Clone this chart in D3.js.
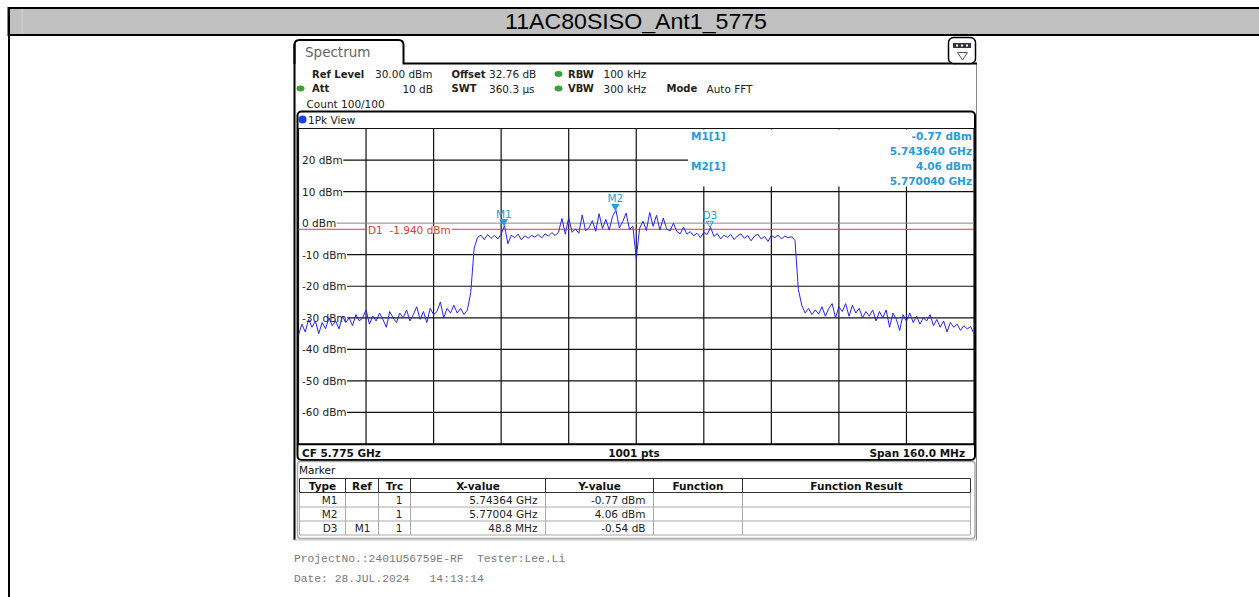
<!DOCTYPE html>
<html><head><meta charset="utf-8">
<script src="https://cdn.jsdelivr.net/npm/d3@7"></script>
<style>body{margin:0;background:#fff;overflow:hidden;} svg{display:block;}</style>
</head><body>
<svg id="c" width="1259" height="597"></svg>
<script>
// ---------- data ----------
const chartTitle = "11AC80SISO_Ant1_5775";
const startFreq = 5.695;   // GHz
const stopFreq = 5.855;    // GHz
const refLevel = 30;       // dBm (top)
const bottomLevel = -70;   // dBm (bottom)
const yTickValues = [20, 10, 0, -10, -20, -30, -40, -50, -60];
const yTickLabels = ["20 dBm", "10 dBm", "0 dBm", "-10 dBm", "-20 dBm", "-30 dBm", "-40 dBm", "-50 dBm", "-60 dBm"];
const xDivisions = [0,1,2,3,4,5,6,7,8,9,10];
// trace levels (dBm), evenly spaced from startFreq to stopFreq
const traceLevels = [
  -35.5, -32, -34.5, -30.5, -33, -31, -35, -31.5, -33.5, -30, -32.5,
  -31, -33.5, -29.5, -31.5, -30, -32.5, -29, -31, -30, -27.5,
  -32, -29.5, -31, -28.5, -30.5, -33, -28, -30, -31.5, -28.5,
  -30, -27.5, -31, -29, -26.5, -30.5, -28, -31.5, -27, -29,
  -28, -25, -30, -27, -28.5, -26, -28.5, -27, -29, -27.5,
  -22, -8,
  -4.5, -3.8, -5.2, -3.6, -4.8, -3.9, -5.0, -3.5, -0.77, -6.5,
  -3.8, -4.6, -3.5, -5.3, -4.0, -4.8, -3.9, -4.4, -3.6, -4.7,
  -3.4, -4.1, -3.0, -3.9, -2.8, 1.5, -3.5, 1.8, -2.9, -1.8,
  -3.2, 2.6, -2.4, -1.5, 0.8, -2.6, 3.0, -1.7, 1.2, -2.2,
  2.2, 4.06, -1.5, 0.5, 3.2, -2.0, -1.0, -11.2, -1.6, 0.6,
  -2.3, 3.4, -1.0, 2.5, -2.2, 1.6, -1.8, -2.5, 0.0, -2.6,
  -3.4, -1.2, -3.5, -2.7, -4.0, -3.2, -4.6, -2.9, -3.6, -1.3,
  -4.2, -3.3, -5.0, -3.8, -4.5, -3.6, -5.2, -4.0, -3.4, -4.8,
  -3.9, -5.6, -4.1, -3.5, -5.0, -4.2, -5.8, -3.9, -4.6, -3.8,
  -5.0, -4.1, -4.6, -4.3, -5.5,
  -21, -26, -28.5,
  -27, -29, -27.5, -28.8, -26.5, -29.5, -27, -25.5, -30, -26.5,
  -28, -25.5, -29.5, -26, -28.5, -27, -30, -28, -29.5, -27.5,
  -31, -28, -30, -27.5, -33, -28.5, -30.5, -34, -29, -31,
  -28.5, -31.5, -29.5, -32, -30, -31, -29, -32.5, -30.5, -33,
  -31, -34.5, -31.5, -33, -32, -34, -32.5, -33.5, -32.8, -35
];
const displayLineLevel = -1.94;
const displayLineLabel = "D1  -1.940 dBm";
const markerNames = ["M1", "M2", "D3"];
const markerFreqs = [5.74364, 5.77004, 5.79244];
const markerLevels = [-0.77, 4.06, -1.31];
const markerInfoNames = ["M1[1]", "M2[1]"];
const markerInfoLevels = ["-0.77 dBm", "4.06 dBm"];
const markerInfoFreqs = ["5.743640 GHz", "5.770040 GHz"];
const tableHeaders = ["Type", "Ref", "Trc", "X-value", "Y-value", "Function", "Function Result"];
const tableRows = [
  ["M1", "", "1", "5.74364 GHz", "-0.77 dBm", "", ""],
  ["M2", "", "1", "5.77004 GHz", "4.06 dBm", "", ""],
  ["D3", "M1", "1", "48.8 MHz", "-0.54 dB", "", ""]
];
const footerLines = ["ProjectNo.:2401U56759E-RF  Tester:Lee.Li", "Date: 28.JUL.2024   14:13:14"];

// ---------- drawing ----------
const svg = d3.select("#c");
const F = "DejaVu Sans, Verdana, sans-serif";
const blue = "#2a9bd8";

// title bar
svg.append("rect").attr("x", 8.5).attr("y", 8).attr("width", 1260).attr("height", 27)
  .attr("fill", "#c0c0c0").attr("stroke", "#000").attr("stroke-width", 2);
svg.append("line").attr("x1", 22).attr("x2", 22).attr("y1", 9).attr("y2", 34).attr("stroke", "#d4d4d4");
svg.append("line").attr("x1", 9).attr("x2", 9).attr("y1", 7).attr("y2", 597).attr("stroke", "#000").attr("stroke-width", 2);
svg.append("text").attr("x", 636).attr("y", 29).attr("text-anchor", "middle")
  .attr("font-family", "Liberation Sans, Arial, sans-serif").attr("font-size", 22)
  .attr("textLength", 262).attr("lengthAdjust", "spacingAndGlyphs").attr("fill", "#000").text(chartTitle);

// instrument panel
svg.append("line").attr("x1", 294.5).attr("x2", 294.5).attr("y1", 44).attr("y2", 540).attr("stroke", "#000").attr("stroke-width", 2);
svg.append("line").attr("x1", 976.5).attr("x2", 976.5).attr("y1", 63).attr("y2", 540).attr("stroke", "#888").attr("stroke-width", 1);
svg.append("line").attr("x1", 294).attr("x2", 977).attr("y1", 540).attr("y2", 540).attr("stroke", "#bbb").attr("stroke-width", 1);
// tab
svg.append("path").attr("d", "M294.5,64 L294.5,45 Q294.5,40 299.5,40 L398.5,40 Q403.5,40 403.5,45 L403.5,63.5 L977,63.5")
  .attr("fill", "none").attr("stroke", "#000").attr("stroke-width", 2);
svg.append("text").attr("x", 305).attr("y", 52).attr("dominant-baseline", "central")
  .attr("font-family", F).attr("font-size", 13.5).attr("fill", "#666").text("Spectrum");
// icon
svg.append("rect").attr("x", 948.5).attr("y", 37.5).attr("width", 27).attr("height", 26).attr("rx", 5)
  .attr("fill", "#fff").attr("stroke", "#000").attr("stroke-width", 1.5);
svg.append("rect").attr("x", 953).attr("y", 43).attr("width", 18).attr("height", 5).attr("fill", "#334");
[957, 962, 967].forEach(cx => svg.append("rect").attr("x", cx - 1).attr("y", 44.5).attr("width", 2).attr("height", 2).attr("fill", "#fff"));
svg.append("path").attr("d", "M957.5,52.5 L967.5,52.5 L962.5,60 Z").attr("fill", "none").attr("stroke", "#556").attr("stroke-width", 1);

// settings header
const hdr = [
  ["Ref Level", 312, 74, true, "start"], ["30.00 dBm", 375, 74, false, "start"],
  ["Offset", 451.5, 74, true, "start"], ["32.76 dB", 489, 74, false, "start"],
  ["RBW", 568, 74, true, "start"], ["100 kHz", 603.5, 74, false, "start"],
  ["Att", 312, 88.5, true, "start"], ["10 dB", 433, 88.5, false, "end"],
  ["SWT", 451.5, 88.5, true, "start"], ["360.3 µs", 489, 88.5, false, "start"],
  ["VBW", 568, 88.5, true, "start"], ["300 kHz", 603.5, 88.5, false, "start"],
  ["Mode", 666.5, 88.5, true, "start"], ["Auto FFT", 706.5, 88.5, false, "start"],
  ["Count 100/100", 306.5, 103.5, false, "start"]
];
hdr.forEach(h => svg.append("text").attr("x", h[1]).attr("y", h[2]).attr("dominant-baseline", "central")
  .attr("text-anchor", h[4]).attr("font-family", F).attr("font-size", h[3] ? 10 : 10.5)
  .attr("font-weight", h[3] ? "bold" : "normal").attr("fill", "#222").text(h[0]));
[[558.5, 74], [300.5, 88.5], [558.5, 88.5]].forEach(p => svg.append("ellipse").attr("cx", p[0]).attr("cy", p[1])
  .attr("rx", 4).attr("ry", 3).attr("fill", "#3aa23a"));

// diagram frame
const x = d3.scaleLinear().domain([startFreq, stopFreq]).range([298.5, 974]);
const y = d3.scaleLinear().domain([bottomLevel, refLevel]).range([444, 128.5]);

svg.append("rect").attr("x", 297.5).attr("y", 111.5).attr("width", 677.5).attr("height", 348.5).attr("rx", 4)
  .attr("fill", "#fff").attr("stroke", "#000").attr("stroke-width", 2);
svg.append("circle").attr("cx", 302.5).attr("cy", 119.5).attr("r", 4).attr("fill", "#1b3df0");
svg.append("text").attr("x", 308).attr("y", 119.5).attr("dominant-baseline", "central")
  .attr("font-family", F).attr("font-size", 10.5).attr("fill", "#222").text("1Pk View");

const grid = svg.append("g");
grid.selectAll("line.v").data(xDivisions).join("line")
  .attr("x1", d => x(startFreq + d * (stopFreq - startFreq) / 10))
  .attr("x2", d => x(startFreq + d * (stopFreq - startFreq) / 10))
  .attr("y1", y(refLevel)).attr("y2", y(bottomLevel))
  .attr("stroke", "#111").attr("stroke-width", 1.2);
grid.append("line").attr("x1", 298).attr("x2", 975).attr("y1", y(refLevel)).attr("y2", y(refLevel)).attr("stroke", "#111").attr("stroke-width", 1.2);
grid.append("line").attr("x1", 298).attr("x2", 975).attr("y1", y(bottomLevel)).attr("y2", y(bottomLevel)).attr("stroke", "#111").attr("stroke-width", 1.5);
yTickValues.forEach((v, i) => {
  const t = grid.append("text").attr("x", 302).attr("y", y(v)).attr("dominant-baseline", "central")
    .attr("font-family", F).attr("font-size", 10.5).attr("fill", "#222").text(yTickLabels[i]);
  const w = t.node().getComputedTextLength();
  grid.insert("line", "text").attr("x1", 302 + w + 0.5).attr("x2", 974).attr("y1", y(v)).attr("y2", y(v))
    .attr("stroke", v === 0 ? "#888" : "#111").attr("stroke-width", v === 0 ? 1 : 1.2);
});

// display line D1
const dl = y(displayLineLevel);
svg.append("line").attr("x1", 298.5).attr("x2", 974).attr("y1", dl).attr("y2", dl).attr("stroke", "#e23a3a").attr("stroke-width", 1);
const dlt = svg.append("text").attr("x", 368).attr("y", dl + 1).attr("dominant-baseline", "central")
  .attr("font-family", F).attr("font-size", 10.5).attr("fill", "#e23a3a").attr("xml:space", "preserve").text(displayLineLabel);
const dlw = dlt.node().getComputedTextLength();
svg.insert("rect", () => dlt.node()).attr("x", 367).attr("y", dl - 3).attr("width", dlw + 2).attr("height", 7).attr("fill", "#fff");

// trace
const n = traceLevels.length;
const pts = traceLevels.map((v, i) => [startFreq + i * (stopFreq - startFreq) / (n - 1), v]);
svg.append("clipPath").attr("id", "pc").append("rect").attr("x", 298.5).attr("y", 128.5).attr("width", 675.5).attr("height", 315.5);
svg.append("path").attr("clip-path", "url(#pc)").datum(pts)
  .attr("d", d3.line().x(d => x(d[0])).y(d => y(d[1])))
  .attr("fill", "none").attr("stroke", "#2424f2").attr("stroke-width", 1);

// marker info box
svg.append("rect").attr("x", 688).attr("y", 129.5).attr("width", 285).attr("height", 57).attr("fill", "#fff");
markerInfoNames.forEach((m, i) => {
  const y0 = 136 + i * 29.5;
  svg.append("text").attr("x", 691).attr("y", y0).attr("dominant-baseline", "central")
    .attr("font-family", F).attr("font-size", 10.5).attr("font-weight", "bold").attr("fill", blue).text(m);
  svg.append("text").attr("x", 972).attr("y", y0).attr("dominant-baseline", "central").attr("text-anchor", "end")
    .attr("font-family", F).attr("font-size", 10.5).attr("font-weight", "bold").attr("fill", blue).text(markerInfoLevels[i]);
  svg.append("text").attr("x", 972).attr("y", y0 + 15).attr("dominant-baseline", "central").attr("text-anchor", "end")
    .attr("font-family", F).attr("font-size", 10.5).attr("font-weight", "bold").attr("fill", blue).text(markerInfoFreqs[i]);
});

// markers
markerNames.forEach((m, i) => {
  const mx = x(markerFreqs[i]), my = y(markerLevels[i]);
  const delta = m.startsWith("D");
  svg.append("path").attr("d", `M${mx - 3.5},${my - 6} L${mx + 3.5},${my - 6} L${mx},${my} Z`)
    .attr("fill", delta ? "none" : blue).attr("stroke", blue).attr("stroke-width", 1);
  svg.append("text").attr("x", mx).attr("y", my - 12).attr("text-anchor", "middle").attr("dominant-baseline", "central")
    .attr("font-family", F).attr("font-size", 10.5).attr("fill", blue).text(m);
});

// bottom band
svg.append("line").attr("x1", 298).attr("x2", 975).attr("y1", 444.5).attr("y2", 444.5).attr("stroke", "#000").attr("stroke-width", 1.5);
[["CF 5.775 GHz", 302, "start"], ["1001 pts", 634, "middle"], ["Span 160.0 MHz", 965, "end"]].forEach(b =>
  svg.append("text").attr("x", b[1]).attr("y", 452.5).attr("dominant-baseline", "central").attr("text-anchor", b[2])
    .attr("font-family", F).attr("font-size", 10.5).attr("font-weight", "bold").attr("fill", "#111").text(b[0]));

// marker table
svg.append("rect").attr("x", 297.5).attr("y", 461.5).attr("width", 677.5).attr("height", 77).attr("rx", 3)
  .attr("fill", "#fff").attr("stroke", "#aaa").attr("stroke-width", 1.5);
svg.append("text").attr("x", 299).attr("y", 469.5).attr("dominant-baseline", "central")
  .attr("font-family", F).attr("font-size", 10.5).attr("fill", "#111").text("Marker");
const colX = [299.5, 345.5, 378.5, 410.5, 545.5, 653.5, 742.5, 970.5];
const rowY = [478.5, 492.5, 507, 521, 535];
rowY.slice(2).forEach(yy => svg.append("line").attr("x1", colX[0]).attr("x2", colX[7]).attr("y1", yy).attr("y2", yy).attr("stroke", "#aaa"));
colX.forEach(xx => svg.append("line").attr("x1", xx).attr("x2", xx).attr("y1", rowY[1]).attr("y2", rowY[4]).attr("stroke", "#aaa"));
svg.append("line").attr("x1", colX[0]).attr("x2", colX[7]).attr("y1", rowY[0]).attr("y2", rowY[0]).attr("stroke", "#333");
svg.append("line").attr("x1", colX[0]).attr("x2", colX[7]).attr("y1", rowY[1]).attr("y2", rowY[1]).attr("stroke", "#333").attr("stroke-width", 1.2);
colX.forEach(xx => svg.append("line").attr("x1", xx).attr("x2", xx).attr("y1", rowY[0]).attr("y2", rowY[1]).attr("stroke", "#333"));
tableHeaders.forEach((h, j) => svg.append("text").attr("x", (colX[j] + colX[j + 1]) / 2).attr("y", 486)
  .attr("dominant-baseline", "central").attr("text-anchor", "middle")
  .attr("font-family", F).attr("font-size", 10.5).attr("font-weight", "bold").attr("fill", "#111").text(h));
tableRows.forEach((r, i) => {
  const yy = (rowY[i + 1] + rowY[i + 2]) / 2;
  r.forEach((c, j) => {
    if (!c) return;
    svg.append("text").attr("x", colX[j + 1] - 8).attr("y", yy).attr("dominant-baseline", "central").attr("text-anchor", "end")
      .attr("font-family", F).attr("font-size", 10.5).attr("fill", "#222").text(c);
  });
});

// footer
footerLines.forEach((t, i) => svg.append("text").attr("x", 294).attr("y", 559 + i * 20).attr("dominant-baseline", "central")
  .attr("font-family", "Liberation Mono, Courier New, monospace").attr("font-size", 11.3).attr("fill", "#7a7a7a")
  .attr("xml:space", "preserve").text(t));
</script>
</body></html>
